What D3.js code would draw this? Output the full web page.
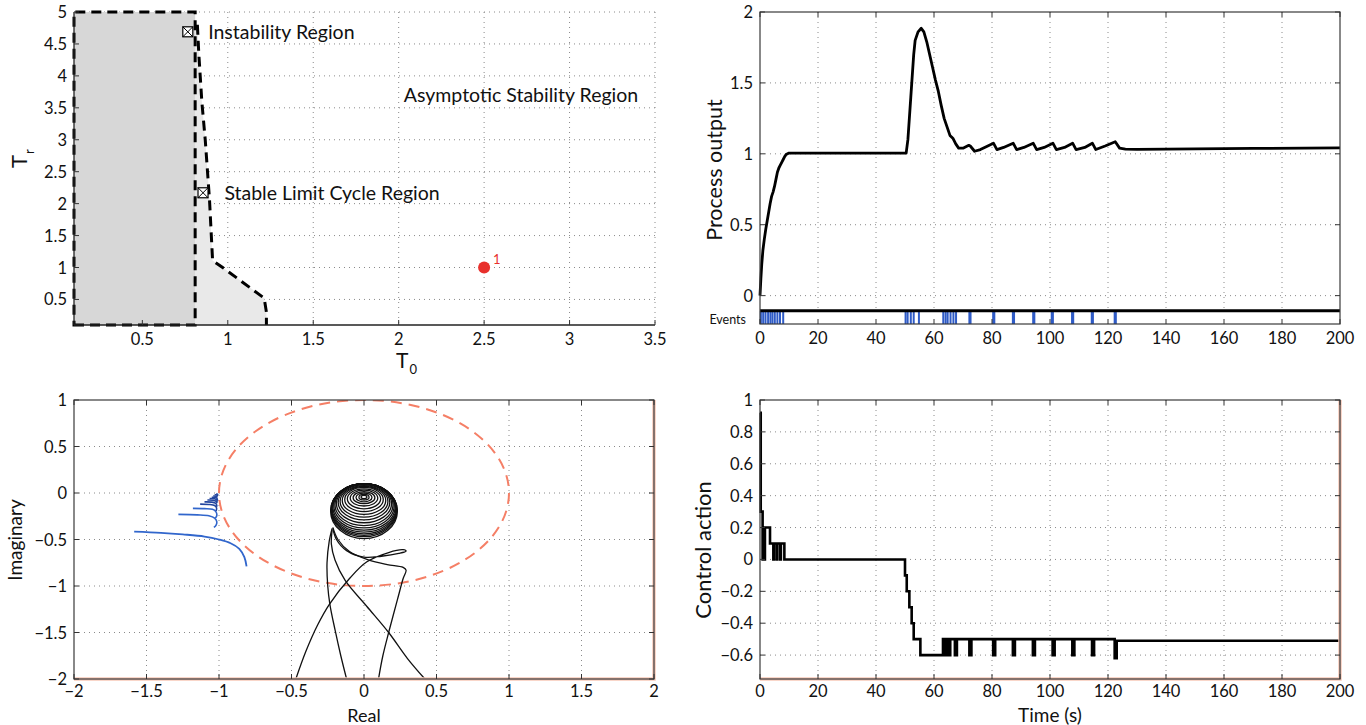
<!DOCTYPE html>
<html><head><meta charset="utf-8">
<script src="https://cdn.jsdelivr.net/npm/d3@7"></script>
<style>
body{margin:0;background:#fff;}
svg{display:block;}
text{font-family:Lato,"Open Sans",sans-serif;fill:#111;}
</style>
</head><body><svg id="c" width="1366" height="725"></svg>
<script>
// ---------------- DATA ----------------
// Panel 1: stability regions (T0 vs Tr)
const t0Ticks = [0.5,1,1.5,2,2.5,3,3.5];
const trTicks = [0.5,1,1.5,2,2.5,3,3.5,4,4.5,5];
const instabT0 = [0.1,0.809,0.809,0.1];
const instabTr = [0.1,0.1,5,5];
const boundT0 = [0.822,0.83,0.848,0.868,0.893,0.911,0.97,1.213,1.226,1.226];
const boundTr = [4.8,4.36,3.6,3.0,2.06,1.11,1.0,0.52,0.3,0.1];
const markerT0 = [0.766,0.855];
const markerTr = [4.69,2.17];
const pointT0 = [2.5];
const pointTr = [1.0];
const regionLabels = ["Instability Region","Stable Limit Cycle Region","Asymptotic Stability Region"];
const regionLabelT0 = [0.885,0.98,2.03];
const regionLabelTr = [4.69,2.17,3.7];

// Panel 2: process output
const timeTicks = [0,20,40,60,80,100,120,140,160,180,200];
const outTicks = [0,0.5,1,1.5,2];
const outT = [0,0.3,0.6,1,1.5,2,2.5,3,3.5,4,4.5,5,5.5,6,6.5,7,7.5,8,8.5,9,10,12,20,30,40,50.4,
  51,52,53,53.5,54.5,55.6,56.5,57.5,58.5,59.5,60.5,61.5,62.5,63.5,64.5,65.5,66.5,67.5,68.5,70,72,72.5,74,
  76,78,80.5,81.7,84,87.3,88.5,91,94.2,95.4,98,101,102.2,105,107.8,109,112,114.6,115.8,119,122.5,
  124,126,130,150,170,200];
const outY = [0,0.12,0.22,0.32,0.4,0.47,0.53,0.59,0.65,0.7,0.73,0.77,0.82,0.87,0.9,0.92,0.94,0.96,0.98,0.995,1.005,1.005,1.005,1.005,1.005,1.005,
  1.1,1.4,1.7,1.8,1.86,1.885,1.86,1.79,1.7,1.61,1.52,1.44,1.34,1.25,1.19,1.13,1.11,1.07,1.04,1.04,1.06,1.055,1.018,
  1.03,1.05,1.075,1.03,1.045,1.075,1.03,1.045,1.075,1.03,1.045,1.075,1.03,1.045,1.075,1.03,1.045,1.075,1.03,1.055,1.085,
  1.04,1.033,1.032,1.035,1.038,1.042];
const eventTimes = [0.3,1.1,1.9,2.8,3.6,4.3,5.1,6.0,6.9,8.0,50.2,50.9,52.0,53.0,54.8,63.2,64.0,64.7,65.7,66.7,67.6,
  72.2,72.6,80.4,80.8,87.2,87.6,94.2,94.6,100.6,101.0,107.6,108.0,114.4,114.8,122.3,122.7];

// Panel 3: Nyquist-like plane
const reTicks = [-2,-1.5,-1,-0.5,0,0.5,1,1.5,2];
const imTicks = [-2,-1.5,-1,-0.5,0,0.5,1];
const circleRadius = [1];
const blueMain = [[-1.585,-0.415],[-1.4,-0.428],[-1.25,-0.445],[-1.1,-0.468],[-1.0,-0.5],[-0.92,-0.54],[-0.86,-0.6],[-0.825,-0.69],[-0.81,-0.79]];
const blueHooks = [
  [[-1.28,-0.23],[-1.15,-0.235],[-1.07,-0.245],[-1.03,-0.27],[-1.015,-0.31],[-1.02,-0.345],[-1.035,-0.37]],
  [[-1.18,-0.165],[-1.1,-0.168],[-1.045,-0.175],[-1.022,-0.2],[-1.015,-0.24],[-1.025,-0.27]],
  [[-1.13,-0.12],[-1.07,-0.123],[-1.03,-0.135],[-1.017,-0.16],[-1.02,-0.195]],
  [[-1.1,-0.095],[-1.05,-0.098],[-1.025,-0.11],[-1.015,-0.135],[-1.018,-0.15]],
  [[-1.08,-0.075],[-1.04,-0.078],[-1.02,-0.09],[-1.013,-0.11]],
  [[-1.065,-0.06],[-1.03,-0.062],[-1.015,-0.075],[-1.012,-0.095]],
  [[-1.05,-0.045],[-1.025,-0.048],[-1.013,-0.06],[-1.011,-0.08]],
  [[-1.04,-0.032],[-1.02,-0.035],[-1.011,-0.048]],
  [[-1.03,-0.02],[-1.015,-0.022],[-1.01,-0.035]],
  [[-1.02,-0.01],[-1.01,-0.012],[-1.008,-0.02]]
];
const ringCenterRe = 0;
const ringTop = [0.10,0.10,0.10,0.10,0.10,0.10,0.10,0.097,0.093,0.087,0.08,0.07,0.06,0.045,0.03,0.015,0.0,-0.015,-0.025];
const ringBottom = [-0.49,-0.47,-0.455,-0.44,-0.42,-0.40,-0.375,-0.35,-0.32,-0.29,-0.26,-0.23,-0.2,-0.17,-0.14,-0.115,-0.095,-0.075,-0.06];
const ringHalfWidth = [0.23,0.228,0.226,0.223,0.22,0.215,0.208,0.2,0.19,0.178,0.165,0.15,0.133,0.115,0.095,0.075,0.055,0.035,0.02];
const tails = [
  [[-0.47,-2],[-0.4,-1.7],[-0.32,-1.42],[-0.24,-1.2],[-0.1,-0.92],[0.02,-0.74],[0.17,-0.64],[0.27,-0.61],[0.29,-0.625],[0.24,-0.65],[0.12,-0.68],[0.0,-0.69],[-0.12,-0.62],[-0.19,-0.5],[-0.215,-0.38]],
  [[-0.12,-2],[-0.16,-1.75],[-0.2,-1.47],[-0.235,-1.2],[-0.25,-1.0],[-0.255,-0.75],[-0.24,-0.52],[-0.22,-0.38]],
  [[0.1,-2],[0.13,-1.75],[0.17,-1.5],[0.23,-1.15],[0.27,-0.92],[0.29,-0.83],[0.27,-0.8],[0.16,-0.77],[0.03,-0.72],[-0.1,-0.63],[-0.18,-0.5],[-0.215,-0.37]],
  [[0.42,-2],[0.3,-1.78],[0.17,-1.5],[0.02,-1.22],[-0.13,-0.94],[-0.2,-0.72],[-0.225,-0.55],[-0.22,-0.4]]
];

// Panel 4: control action
const ctrlTicks = [-0.6,-0.4,-0.2,0,0.2,0.4,0.6,0.8,1];
const ctrlT = [0,0.25,0.9,1.0,1.5,1.7,3.45,4.6,4.8,5.75,5.9,6.9,7.2,8.4,
  50,50.6,51.5,52.3,53,55.3,63.1,63.8,64.5,65.0,65.6,67.2,67.9,72.2,72.9,80.4,81.1,87.2,87.9,94.1,94.8,100.9,101.6,107.7,108.4,114.5,115.2,122.3,123.0,200];
const ctrlU = [0.92,0.3,0,0.1,0,0.2,0.1,0,0.1,0,0.1,0,0.1,0,
  -0.1,-0.2,-0.3,-0.4,-0.5,-0.6,-0.5,-0.6,-0.5,-0.6,-0.5,-0.6,-0.5,-0.6,-0.5,-0.6,-0.5,-0.6,-0.5,-0.6,-0.5,-0.6,-0.5,-0.6,-0.5,-0.6,-0.5,-0.62,-0.51,-0.51];

// ---------------- DRAWING ----------------
const svg = d3.select("#c");
svg.append("rect").attr("width",1366).attr("height",725).attr("fill","#fff");
const fmt = v => String(+v.toFixed(2)).replace("-","\u2212");
const GRID = "#8a8a8a";
const TICKFS = 16.5;

function panel(o){
  const g = svg.append("g");
  const x = d3.scaleLinear().domain(o.xd).range(o.xr);
  const y = d3.scaleLinear().domain(o.yd).range(o.yr);
  const [xl,xh] = o.xr, [yb,yt] = o.yr;
  const grid = g.append("g");
  o.xt.forEach(t=>{ if(o.boxed && (Math.abs(x(t)-xl)<1||Math.abs(x(t)-xh)<1)) return;
    grid.append("line").attr("x1",x(t)).attr("x2",x(t)).attr("y1",yt).attr("y2",yb)
      .attr("stroke",GRID).attr("stroke-width",1).attr("stroke-dasharray","1,4");});
  o.yt.forEach(t=>{ if(o.boxed && (Math.abs(y(t)-yt)<1||Math.abs(y(t)-yb)<1)) return;
    grid.append("line").attr("y1",y(t)).attr("y2",y(t)).attr("x1",xl).attr("x2",xh)
      .attr("stroke",GRID).attr("stroke-width",1).attr("stroke-dasharray","1,4");});
  const marks = g.append("g");
  const frame = g.append("g");
  if(o.boxed){
    if(o.warm){
      frame.append("path").attr("d",`M${xh},${yt}V${yb}H${xl}`).attr("fill","none").attr("stroke","#f7c9b8").attr("stroke-width",3.5);
    }
    frame.append("rect").attr("x",xl).attr("y",yt).attr("width",xh-xl).attr("height",yb-yt)
      .attr("fill","none").attr("stroke","#3a3a3a").attr("stroke-width",1.2);
  } else {
    frame.append("line").attr("x1",xl).attr("x2",xh).attr("y1",yb).attr("y2",yb).attr("stroke","#222").attr("stroke-width",1.3);
    frame.append("line").attr("x1",xl).attr("x2",xl).attr("y1",yb).attr("y2",yt).attr("stroke","#222").attr("stroke-width",1.3);
  }
  o.xt.forEach(t=>{
    frame.append("line").attr("x1",x(t)).attr("x2",x(t)).attr("y1",yb).attr("y2",yb-5).attr("stroke","#333");
    if(o.boxed) frame.append("line").attr("x1",x(t)).attr("x2",x(t)).attr("y1",yt).attr("y2",yt+5).attr("stroke","#333");
    frame.append("text").attr("x",x(t)).attr("y",yb+(o.xlabOff||20)).attr("text-anchor","middle").attr("font-size",TICKFS).text(fmt(t));
  });
  o.yt.forEach(t=>{
    frame.append("line").attr("y1",y(t)).attr("y2",y(t)).attr("x1",xl).attr("x2",xl+5).attr("stroke","#333");
    if(o.boxed) frame.append("line").attr("y1",y(t)).attr("y2",y(t)).attr("x1",xh).attr("x2",xh-5).attr("stroke","#333");
    frame.append("text").attr("x",xl-7).attr("y",y(t)+6).attr("text-anchor","end").attr("font-size",TICKFS).text(fmt(t));
  });
  return {g:marks,x,y,frame};
}
const zip = (a,b)=>a.map((v,i)=>[v,b[i]]);

// ---- Panel 1
{
  const p = panel({xd:[0.1,3.5],xr:[74,655],yd:[0.1,5],yr:[325,12],xt:t0Ticks,yt:trTicks,boxed:false});
  const {g,x,y} = p;
  const line = d3.line().x(d=>x(d[0])).y(d=>y(d[1]));
  const light = [[instabT0[1],0.1],[instabT0[1],boundTr[0]]].concat(zip(boundT0,boundTr));
  g.insert("path",":first-child").attr("d",line(light)+"Z").attr("fill","#e9e9e9");
  g.append("path").attr("d",line(zip(instabT0,instabTr))+"Z").attr("fill","#d7d7d7")
    .attr("stroke","#000").attr("stroke-width",3).attr("stroke-dasharray","10,6");
  g.append("path").attr("d",line(zip(boundT0,boundTr))).attr("fill","none")
    .attr("stroke","#000").attr("stroke-width",3).attr("stroke-dasharray","10,6");
  markerT0.forEach((m,i)=>{
    const cx=x(m), cy=y(markerTr[i]), s=5;
    g.append("rect").attr("x",cx-s).attr("y",cy-s).attr("width",2*s).attr("height",2*s).attr("fill","#fff").attr("stroke","#000").attr("stroke-width",1.2);
    g.append("path").attr("d",`M${cx-s},${cy-s}L${cx+s},${cy+s}M${cx+s},${cy-s}L${cx-s},${cy+s}`).attr("stroke","#000").attr("stroke-width",1);
  });
  regionLabels.forEach((t,i)=>{
    g.append("text").attr("x",x(regionLabelT0[i])).attr("y",y(regionLabelTr[i])+7).attr("font-size",19.5).text(t);
  });
  pointT0.forEach((v,i)=>{
    g.append("circle").attr("cx",x(v)).attr("cy",y(pointTr[i])).attr("r",6).attr("fill","#e8302c");
    g.append("text").attr("x",x(v)+9).attr("y",y(pointTr[i])-4).attr("font-size",13).style("fill","#e8302c").text(String(i+1));
  });
  const yl = svg.append("text").attr("transform","translate(27,168) rotate(-90)").attr("font-size",22);
  yl.append("tspan").text("T");
  yl.append("tspan").attr("font-size",13).attr("dy",7).attr("dx",1).text("r");
  const xlab = svg.append("text").attr("x",396).attr("y",368).attr("font-size",21);
  xlab.append("tspan").text("T");
  xlab.append("tspan").attr("font-size",13).attr("dy",6).attr("dx",1).text("0");
}

// ---- Panel 2
{
  const p = panel({xd:[0,200],xr:[760,1340],yd:[-0.2,2],yr:[324,12],xt:timeTicks,yt:outTicks,boxed:true});
  const {g,x,y} = p;
  const line = d3.line().x(d=>x(d[0])).y(d=>y(d[1]));
  g.append("path").attr("d",line(zip(outT,outY))).attr("fill","none").attr("stroke","#000").attr("stroke-width",2.8).attr("stroke-linejoin","round");
  g.append("rect").attr("x",x(0)+1).attr("y",y(-0.107)).attr("width",x(200)-x(0)-2).attr("height",y(-0.2)-y(-0.107)-1).attr("fill","#fff");
  eventTimes.forEach(t=>{
    g.append("line").attr("x1",x(t)).attr("x2",x(t)).attr("y1",y(-0.107)).attr("y2",y(-0.2)).attr("stroke","#2f5bc6").attr("stroke-width",2);
  });
  g.append("line").attr("x1",x(0)).attr("x2",x(200)).attr("y1",y(-0.107)).attr("y2",y(-0.107)).attr("stroke","#000").attr("stroke-width",3);
  svg.append("text").attr("x",746).attr("y",324).attr("text-anchor","end").attr("font-size",12.5).text("Events");
  svg.append("text").attr("transform","translate(722,170) rotate(-90)").attr("text-anchor","middle").attr("font-size",21.5).text("Process output");
}

// ---- Panel 3
{
  const p = panel({xd:[-2,2],xr:[74,654],yd:[-2,1],yr:[679,400],xt:reTicks,yt:imTicks,boxed:true,warm:true,xlabOff:18});
  const {g,x,y} = p;
  svg.append("clipPath").attr("id","clip3").append("rect").attr("x",74).attr("y",400).attr("width",580).attr("height",279);
  g.attr("clip-path","url(#clip3)");
  circleRadius.forEach(r=>{
    g.append("ellipse").attr("cx",x(0)).attr("cy",y(0)).attr("rx",x(r)-x(0)).attr("ry",y(0)-y(r))
      .attr("fill","none").attr("stroke","#f57f66").attr("stroke-width",2).attr("stroke-dasharray","11,7");
  });
  const cl = d3.line().x(d=>x(d[0])).y(d=>y(d[1])).curve(d3.curveCatmullRom);
  ringTop.forEach((t,i)=>{
    const b = ringBottom[i];
    g.append("ellipse").attr("cx",x(ringCenterRe)).attr("cy",y((t+b)/2))
      .attr("rx",x(ringHalfWidth[i])-x(0)).attr("ry",y(0)-y((t-b)/2))
      .attr("fill","none").attr("stroke","#111").attr("stroke-width",1.3);
  });
  tails.forEach(tl=>{
    g.append("path").attr("d",cl(tl)).attr("fill","none").attr("stroke","#111").attr("stroke-width",1.3);
  });
  g.append("path").attr("d",cl(blueMain)).attr("fill","none").attr("stroke","#3166cc").attr("stroke-width",1.8);
  blueHooks.forEach((h,i)=>{
    g.append("path").attr("d",cl(h)).attr("fill","none").attr("stroke",i<2?"#3166cc":"#23469f").attr("stroke-width",1.6);
  });
  svg.append("text").attr("transform","translate(22,540) rotate(-90)").attr("text-anchor","middle").attr("font-size",19).text("Imaginary");
  svg.append("text").attr("x",364).attr("y",722).attr("text-anchor","middle").attr("font-size",18).text("Real");
}

// ---- Panel 4
{
  const p = panel({xd:[0,200],xr:[760,1340],yd:[-0.75,1],yr:[679,400],xt:timeTicks,yt:ctrlTicks,boxed:true,warm:true,xlabOff:18});
  const {g,x,y} = p;
  const line = d3.line().x(d=>x(d[0])).y(d=>y(d[1])).curve(d3.curveStepAfter);
  g.append("path").attr("d",line(zip(ctrlT,ctrlU))).attr("fill","none").attr("stroke","#000").attr("stroke-width",2.6);
  svg.append("text").attr("transform","translate(711,550) rotate(-90)").attr("text-anchor","middle").attr("font-size",22).text("Control action");
  svg.append("text").attr("x",1050).attr("y",722).attr("text-anchor","middle").attr("font-size",19).text("Time (s)");
}
</script></body></html>
